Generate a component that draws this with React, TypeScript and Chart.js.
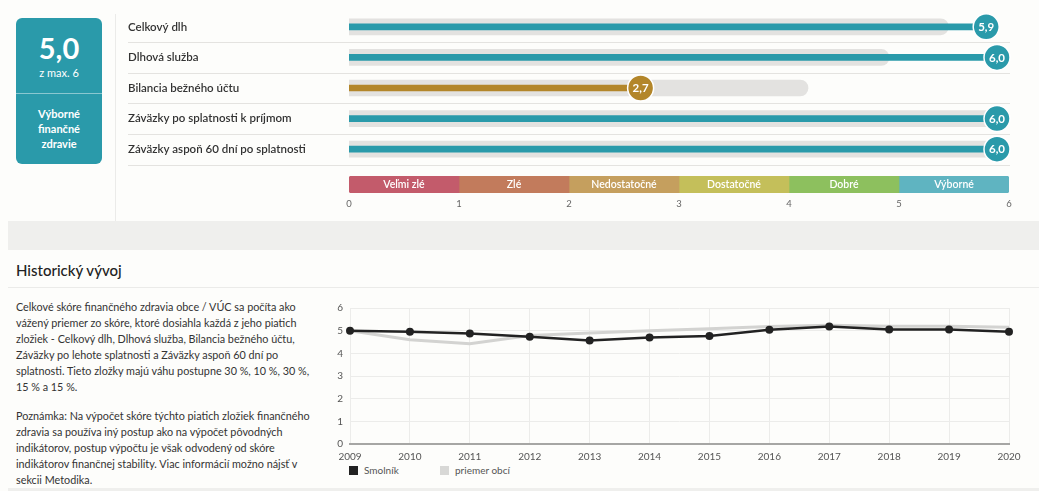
import React, { useEffect, useRef } from "react";
import { Chart, registerables } from "chart.js";

Chart.register(...registerables);

// ---------- data ----------
const rowLabels = [
  "Celkový dlh",
  "Dlhová služba",
  "Bilancia bežného účtu",
  "Záväzky po splatnosti k príjmom",
  "Záväzky aspoň 60 dní po splatnosti",
];
const rowScores = [5.9, 6.0, 2.7, 6.0, 6.0];
const rowAverages = [5.55, 5.0, 4.25, 6.0, 6.0];

const bandLabels = ["Veľmi zlé", "Zlé", "Nedostatočné", "Dostatočné", "Dobré", "Výborné"];
const bandWidths = [1, 1, 1, 1, 1, 1];
const scaleTicks = [0, 1, 2, 3, 4, 5, 6];

const totalScore = "5,0";
const totalMax = "z max. 6";
const totalVerdict = ["Výborné", "finančné", "zdravie"];

const years = ["2009", "2010", "2011", "2012", "2013", "2014", "2015", "2016", "2017", "2018", "2019", "2020"];
const smolnik = [5.0, 4.95, 4.87, 4.73, 4.57, 4.7, 4.76, 5.04, 5.18, 5.05, 5.05, 4.95];
const priemer = [5.0, 4.6, 4.42, 4.79, 4.9, 5.0, 5.08, 5.18, 5.24, 5.2, 5.2, 5.15];
const yTicks = [0, 1, 2, 3, 4, 5, 6];

const seriesNames = ["Smolník", "priemer obcí"];

const paragraph1 = [
  "Celkové skóre finančného zdravia obce / VÚC sa počíta ako",
  "vážený priemer zo skóre, ktoré dosiahla každá z jeho piatich",
  "zložiek - Celkový dlh, Dlhová služba, Bilancia bežného účtu,",
  "Záväzky po lehote splatnosti a Záväzky aspoň 60 dní po",
  "splatnosti. Tieto zložky majú váhu postupne 30 %, 10 %, 30 %,",
  "15 % a 15 %.",
];
const paragraph2 = [
  "Poznámka: Na výpočet skóre týchto piatich zložiek finančného",
  "zdravia sa používa iný postup ako na výpočet pôvodných",
  "indikátorov, postup výpočtu je však odvodený od skóre",
  "indikátorov finančnej stability. Viac informácií možno nájsť v",
  "sekcii Metodika.",
];

// ---------- styles ----------
const FONT = "Lato, 'Noto Sans', sans-serif";
const TEAL = "#2a9aaa";
const BAND_FILL = ["#c35b6b", "#c27b5c", "#c59f5e", "#c4bf5a", "#8dc05e", "#5fb4c1"];
const BAND_DARK = ["#b04050", "#b0603a", "#b3862a", "#a8a030", "#6ea03a", TEAL];
const scoreColor = (v: number) => BAND_DARK[Math.min(5, Math.floor(v))];

function RowsChart() {
  const ref = useRef<HTMLCanvasElement | null>(null);
  useEffect(() => {
    const rowsPlugin = {
      id: "rowsDecor",
      beforeDatasetsDraw(chart: any) {
        const { ctx, chartArea } = chart;
        const y = chart.scales.y;
        const half = (y.getPixelForValue(1) - y.getPixelForValue(0)) / 2;
        ctx.save();
        ctx.strokeStyle = "#e4e3e0";
        ctx.lineWidth = 1;
        for (let i = 0; i < rowLabels.length; i++) {
          const yy = Math.round(y.getPixelForValue(i) + half) + 0.5;
          ctx.beginPath();
          ctx.moveTo(10, yy);
          ctx.lineTo(chartArea.right + 13, yy);
          ctx.stroke();
        }
        ctx.restore();
      },
      afterDatasetsDraw(chart: any) {
        const { ctx } = chart;
        const meta = chart.getDatasetMeta(1);
        ctx.save();
        meta.data.forEach((bar: any, i: number) => {
          const v = rowScores[i];
          ctx.beginPath();
          ctx.arc(bar.x, bar.y, 13, 0, Math.PI * 2);
          ctx.fillStyle = scoreColor(v);
          ctx.fill();
          ctx.lineWidth = 1.5;
          ctx.strokeStyle = "#ffffff";
          ctx.stroke();
          ctx.fillStyle = "#ffffff";
          ctx.font = `bold 11.5px ${FONT}`;
          ctx.textAlign = "center";
          ctx.textBaseline = "middle";
          ctx.fillText(v.toFixed(1).replace(".", ","), bar.x, bar.y + 0.5);
        });
        ctx.restore();
      },
    };
    const chart = new Chart(ref.current!, {
      type: "bar",
      data: {
        labels: rowLabels,
        datasets: [
          {
            data: rowAverages,
            backgroundColor: "#e3e2e0",
            barThickness: 16,
            borderRadius: { topLeft: 0, bottomLeft: 0, topRight: 8, bottomRight: 8 },
            borderSkipped: false,
            grouped: false,
            order: 2,
          } as any,
          {
            data: rowScores,
            backgroundColor: rowScores.map((v) => scoreColor(v)),
            barThickness: 6,
            grouped: false,
            order: 1,
          } as any,
        ],
      },
      options: {
        indexAxis: "y",
        animation: false,
        responsive: true,
        maintainAspectRatio: false,
        layout: { padding: { left: 10, right: 21, top: 11.5, bottom: 10.5 } },
        plugins: { legend: { display: false }, tooltip: { enabled: false } },
        events: [],
        scales: {
          x: { display: false, min: 0, max: 6 },
          y: {
            grid: { display: false },
            border: { display: false },
            afterFit: (s: any) => {
              s.width = 221;
            },
            ticks: {
              crossAlign: "far",
              color: "#333333",
              font: { family: FONT, size: 11.5, weight: "600" },
            },
          },
        },
      },
      plugins: [rowsPlugin],
    } as any);
    return () => chart.destroy();
  }, []);
  return (
    <div style={{ position: "absolute", left: 118, top: 0, width: 900, height: 175 }}>
      <canvas ref={ref} />
    </div>
  );
}

function BandChart() {
  const ref = useRef<HTMLCanvasElement | null>(null);
  useEffect(() => {
    const labelPlugin = {
      id: "bandLabels",
      afterDatasetsDraw(chart: any) {
        const { ctx } = chart;
        ctx.save();
        ctx.fillStyle = "#ffffff";
        ctx.font = `600 10.5px ${FONT}`;
        ctx.textAlign = "center";
        ctx.textBaseline = "middle";
        bandLabels.forEach((lab, i) => {
          const bar: any = chart.getDatasetMeta(i).data[0];
          ctx.fillText(lab, (bar.x + bar.base) / 2, bar.y + 0.5);
        });
        ctx.restore();
      },
    };
    const n = bandLabels.length;
    const chart = new Chart(ref.current!, {
      type: "bar",
      data: {
        labels: [""],
        datasets: bandLabels.map((lab, i) => ({
          label: lab,
          data: [bandWidths[i]],
          backgroundColor: BAND_FILL[i],
          barPercentage: 1,
          categoryPercentage: 1,
          borderSkipped: false,
          borderRadius:
            i === 0
              ? { topLeft: 3, bottomLeft: 3, topRight: 0, bottomRight: 0 }
              : i === n - 1
              ? { topLeft: 0, bottomLeft: 0, topRight: 3, bottomRight: 3 }
              : { topLeft: 0, bottomLeft: 0, topRight: 0, bottomRight: 0 },
        })) as any,
      },
      options: {
        indexAxis: "y",
        animation: false,
        responsive: true,
        maintainAspectRatio: false,
        layout: { padding: { left: 10, right: 10, top: 6, bottom: 0 } },
        plugins: { legend: { display: false }, tooltip: { enabled: false } },
        events: [],
        scales: {
          x: {
            stacked: true,
            min: 0,
            max: 6,
            grid: { display: false, drawTicks: false },
            border: { display: false },
            afterBuildTicks: (s: any) => {
              s.ticks = scaleTicks.map((v) => ({ value: v }));
            },
            afterFit: (s: any) => {
              s.height = 18;
            },
            ticks: {
              padding: 5,
              color: "#666666",
              font: { family: FONT, size: 9.5 },
              maxRotation: 0,
            },
          },
          y: { stacked: true, display: false },
        },
      },
      plugins: [labelPlugin],
    } as any);
    return () => chart.destroy();
  }, []);
  return (
    <div style={{ position: "absolute", left: 339, top: 170, width: 680, height: 41 }}>
      <canvas ref={ref} />
    </div>
  );
}

function HistoryChart() {
  const ref = useRef<HTMLCanvasElement | null>(null);
  useEffect(() => {
    const chart = new Chart(ref.current!, {
      type: "line",
      data: {
        labels: years,
        datasets: [
          {
            label: seriesNames[0],
            data: smolnik,
            borderColor: "#222222",
            backgroundColor: "#222222",
            borderWidth: 2.5,
            pointRadius: 4,
            pointBorderWidth: 0,
            pointBackgroundColor: "#222222",
            tension: 0,
            order: 1,
          },
          {
            label: seriesNames[1],
            data: priemer,
            borderColor: "#d3d3d1",
            backgroundColor: "#d3d3d1",
            borderWidth: 3,
            pointRadius: 0,
            tension: 0,
            order: 2,
          },
        ],
      },
      options: {
        animation: false,
        responsive: true,
        maintainAspectRatio: false,
        layout: { padding: { left: 8, right: 26, top: 12, bottom: 0 } },
        plugins: { legend: { display: false }, tooltip: { enabled: false } },
        events: [],
        scales: {
          x: {
            grid: { color: "#ececea", drawTicks: false },
            border: { color: "#a6a6a4", width: 2 },
            afterFit: (s: any) => {
              s.height = 18;
            },
            ticks: {
              padding: 7,
              color: "#555555",
              font: { family: FONT, size: 10 },
              maxRotation: 0,
              autoSkip: false,
            },
          },
          y: {
            min: 0,
            max: 6,
            grid: { color: "#ececea", drawTicks: false },
            border: { display: false },
            afterBuildTicks: (s: any) => {
              s.ticks = yTicks.map((v) => ({ value: v }));
            },
            afterFit: (s: any) => {
              s.width = 22;
            },
            ticks: {
              padding: 7,
              color: "#555555",
              font: { family: FONT, size: 10 },
            },
          },
        },
      },
    } as any);
    return () => chart.destroy();
  }, []);
  return (
    <div style={{ position: "absolute", left: 320, top: 295, width: 715, height: 167 }}>
      <canvas ref={ref} />
    </div>
  );
}

export default function App() {
  const textStyle: React.CSSProperties = {
    position: "absolute",
    left: 16,
    fontFamily: FONT,
    fontSize: 10.8,
    lineHeight: "15.9px",
    color: "#333333",
    whiteSpace: "nowrap",
  };
  return (
    <div
      style={{
        position: "fixed",
        left: 0,
        top: 0,
        width: 1039,
        height: 491,
        background: "#fdfdfb",
        overflow: "hidden",
        fontFamily: FONT,
      }}
    >
      {/* score box */}
      <div
        style={{
          position: "absolute",
          left: 16,
          top: 18,
          width: 86,
          height: 146,
          background: TEAL,
          borderRadius: 6,
          color: "#ffffff",
          textAlign: "center",
        }}
      >
        <div style={{ position: "absolute", left: 0, right: 0, top: 13, fontSize: 29, fontWeight: 700, lineHeight: "34px" }}>
          {totalScore}
        </div>
        <div style={{ position: "absolute", left: 0, right: 0, top: 48, fontSize: 11, lineHeight: "14px" }}>{totalMax}</div>
        <div style={{ position: "absolute", left: 0, right: 0, top: 75, height: 1, background: "rgba(255,255,255,0.45)" }} />
        <div style={{ position: "absolute", left: 0, right: 0, top: 88, fontSize: 11, fontWeight: 700, lineHeight: "15px" }}>
          {totalVerdict.map((t) => (
            <div key={t}>{t}</div>
          ))}
        </div>
      </div>

      {/* vertical divider */}
      <div style={{ position: "absolute", left: 115, top: 14, width: 1, height: 207, background: "#ebebe9" }} />

      <RowsChart />
      <BandChart />

      {/* gray band */}
      <div style={{ position: "absolute", left: 8, top: 221, width: 1031, height: 29, background: "#efefed" }} />

      {/* header */}
      <div
        style={{
          position: "absolute",
          left: 16,
          top: 260,
          fontSize: 15,
          fontWeight: 500,
          color: "#222222",
          lineHeight: "20px",
        }}
      >
        Historický vývoj
      </div>
      <div style={{ position: "absolute", left: 8, top: 287, width: 1031, height: 1, background: "#ebebe9" }} />

      {/* paragraph */}
      <div style={{ ...textStyle, top: 299 }}>
        {paragraph1.map((l) => (
          <div key={l}>{l}</div>
        ))}
      </div>
      <div style={{ ...textStyle, top: 408 }}>
        {paragraph2.map((l) => (
          <div key={l}>{l}</div>
        ))}
      </div>

      <HistoryChart />

      {/* legend */}
      <div style={{ position: "absolute", left: 349, top: 464, fontSize: 10, color: "#555555", display: "flex", alignItems: "center" }}>
        <span style={{ width: 9, height: 9, background: "#222222", display: "inline-block", marginRight: 6 }} />
        <span style={{ width: 76 }}>{seriesNames[0]}</span>
        <span style={{ width: 9, height: 9, background: "#d8d8d6", display: "inline-block", marginRight: 6 }} />
        <span>{seriesNames[1]}</span>
      </div>

      {/* bottom band */}
      <div style={{ position: "absolute", left: 8, top: 488, width: 1031, height: 3, background: "#efefed" }} />
    </div>
  );
}
